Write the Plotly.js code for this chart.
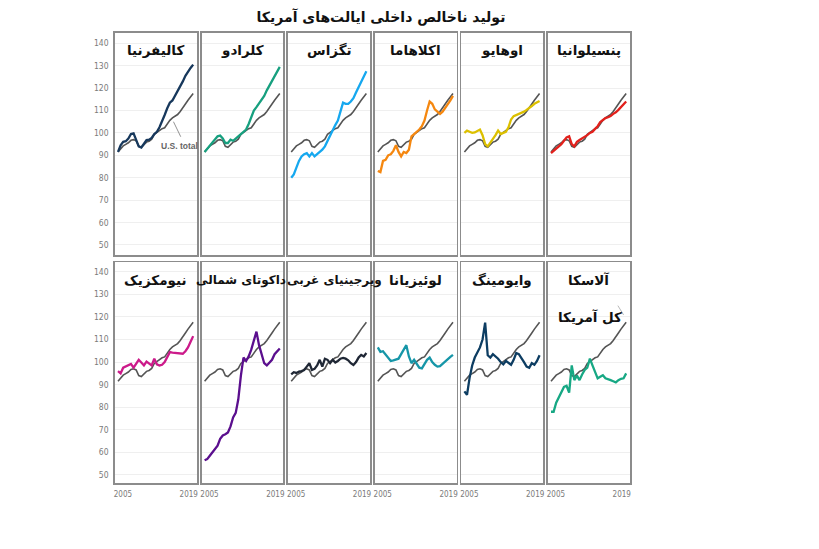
<!DOCTYPE html>
<html><head><meta charset="utf-8">
<script src="https://cdn.plot.ly/plotly-3.0.1.min.js"></script>
<style>html,body{margin:0;padding:0;background:#fff}</style>
</head><body><div id="chart" style="width:819px;height:549px"></div>
<script>
const years = [2005,2005.5,2006,2006.5,2007,2007.5,2008,2008.5,2009,2009.5,2010,2010.5,2011,2011.5,2012,2012.5,2013,2013.5,2014,2014.5,2015,2015.5,2016,2016.5,2017,2017.5,2018,2018.5,2019,2019.5];
const usTotal = [91.5,92.8,94.2,94.9,95.6,96.7,97.0,96.5,94.0,93.6,94.8,95.9,96.3,97.2,99.4,100.3,100.9,101.9,102.3,104.2,105.6,106.7,107.4,108.2,109.6,111.0,112.9,114.6,116.0,117.6];
const california = [91.5,94.5,96.0,96.3,97.5,99.5,99.8,97.0,94.0,93.5,95.0,96.8,97.0,97.8,99.5,100.5,102.5,105.0,108.0,111.0,113.5,114.5,116.5,118.5,120.5,123.0,125.5,127.5,129.0,130.5];
const colorado = [91.5,93.0,94.5,95.5,97.0,98.5,98.8,97.5,95.5,95.5,97.0,96.5,97.5,98.5,99.5,100.3,101.5,104.0,107.0,110.0,111.5,113.0,114.5,116.5,119.0,121.0,123.0,125.5,127.5,129.5];
const texas = [80.0,81.5,84.5,87.5,89.5,90.5,91.0,89.5,91.0,89.5,90.5,91.5,92.5,94.0,96.5,99.0,101.5,103.5,105.5,109.0,113.5,113.0,113.0,114.0,115.5,118.0,120.5,123.0,125.5,127.5];
const oklahoma = [83.0,82.5,87.5,88.0,90.0,90.5,92.0,94.5,91.5,89.5,91.5,91.0,92.5,98.5,99.5,100.5,101.5,103.0,105.5,110.0,114.0,113.0,110.5,109.5,108.5,109.5,111.0,112.5,114.5,116.5];
const ohio = [100.0,101.0,100.5,100.0,100.2,100.8,101.5,99.0,95.0,94.0,95.5,97.0,99.0,101.0,99.5,100.0,100.5,102.5,106.0,107.5,108.0,108.2,108.8,109.5,110.3,111.0,112.0,113.0,113.8,114.3];
const pennsylvania = [91.0,92.0,93.0,94.0,95.0,96.5,98.0,98.5,95.0,94.0,96.0,96.8,97.5,98.3,99.0,100.0,100.5,101.8,103.0,104.8,105.8,106.6,107.0,107.5,108.5,109.2,110.3,111.5,113.0,114.0];
const newMexico = [96.0,95.0,97.5,98.0,98.5,99.2,97.5,99.5,101.0,99.8,98.5,100.2,99.5,98.5,101.5,99.0,98.5,98.8,100.0,102.5,104.4,104.2,104.0,104.1,103.8,103.7,104.8,106.5,109.0,111.5];
const northDakota = [56.5,57.0,58.5,60.0,61.0,63.0,66.0,67.5,68.0,68.8,71.5,75.5,77.5,83.5,94.0,102.0,100.5,102.5,105.5,110.0,113.5,107.5,103.0,99.5,98.5,100.0,101.0,103.5,105.0,106.0];
const westVirginia = [94.5,95.5,95.2,95.8,96.0,96.5,98.0,99.5,96.5,97.0,98.5,101.0,98.0,101.5,101.0,99.5,101.0,99.8,100.5,101.5,101.8,101.5,100.8,99.5,98.7,100.0,102.0,103.2,102.5,104.0];
const louisiana = [106.5,104.5,104.8,103.5,102.0,100.5,100.8,101.0,101.5,103.5,105.5,107.5,102.5,99.5,101.0,99.0,97.5,97.2,99.0,101.0,102.0,100.0,98.8,98.0,98.2,99.3,100.0,101.5,102.3,103.2];
const wyoming = [87.0,85.5,93.0,98.5,102.0,104.0,106.5,110.0,117.5,103.0,102.0,103.5,102.5,101.5,100.0,99.0,100.5,99.5,98.8,101.0,104.0,103.5,102.0,100.0,98.0,97.5,99.5,98.8,100.5,103.0];
const alaska = [78.0,78.0,82.0,84.5,86.5,89.0,89.5,86.5,98.5,92.0,94.0,92.0,94.5,96.5,97.5,101.5,98.5,96.0,92.8,93.5,94.2,92.8,92.5,92.0,91.5,91.0,92.0,92.6,92.8,95.0];

const stateNames = ['کالیفرنیا','کلرادو','تگزاس','اکلاهاما','اوهایو','پنسیلوانیا','نیومکزیک','داکوتای شمالی','ویرجینیای غربی','لوئیزیانا','وایومینگ','آلاسکا'];
const stateSeries = [california,colorado,texas,oklahoma,ohio,pennsylvania,newMexico,northDakota,westVirginia,louisiana,wyoming,alaska];
const stateColors = ['#17385c','#17a07f','#16a8ef','#f5870f','#dcc000','#e2211c','#cc1a8a','#5b0f8e','#1f2735','#1696a8','#0d3d62','#17a884'];
const yTicks = [50,60,70,80,90,100,110,120,130,140];
const xTickLabels = ['2005','2019'];
const chartTitle = 'تولید ناخالص داخلی ایالت‌های آمریکا';
const usLabel = 'U.S. total';
const usLabelFa = 'کل آمریکا';

const W = 819, H = 549;
const tickFont = {family:'Liberation Sans Narrow, DejaVu Sans Condensed, sans-serif', size:8.5, color:'#7a7a7a'};
const xTickFont = {family:'Liberation Sans Narrow, DejaVu Sans Condensed, sans-serif', size:8, color:'#7a7a7a'};
const traces = [];
const layout = {
  width: W, height: H,
  margin: {l:0, r:0, t:0, b:0},
  paper_bgcolor:'#fff', plot_bgcolor:'#fff',
  showlegend:false,
  title: {text:'<b>'+chartTitle+'</b>', x:381/W, xanchor:'center', y:1-17/H, yanchor:'middle',
          font:{family:'DejaVu Sans, sans-serif', size:14, color:'#111'}},
  annotations: [], shapes: []
};
const rowY = [[33,255],[262.3,483.3]];
const rowRange = [[45.5,144.6],[46.3,144.2]];
for (let i=0;i<12;i++){
  const row = i<6?0:1, col = i%6;
  const left = 115 + col*86.6, right = left + 81.7;
  const sfx = i===0 ? '' : String(i+1);
  layout['xaxis'+sfx] = {
    domain:[left/W, right/W], anchor:'y'+sfx, range:[2004.42,2020.18],
    showgrid:false, zeroline:false, ticks:'', tickvals:[2005.95,2018.65], ticktext:xTickLabels,
    showticklabels: row===1, tickfont: xTickFont, ticklabelstandoff: 2,
    showline:true, mirror:true, linecolor:'#8c8c8c', linewidth:1.8, fixedrange:true
  };
  layout['yaxis'+sfx] = {
    domain:[1-rowY[row][1]/H, 1-rowY[row][0]/H], anchor:'x'+sfx, range:rowRange[row],
    showgrid:true, gridcolor:'#efefef', gridwidth:1, zeroline:false, ticks:'', tickvals:yTicks,
    showticklabels: col===0, tickfont: tickFont, ticklabelstandoff: 3,
    showline:true, mirror:true, linecolor:'#8c8c8c', linewidth:1.8, fixedrange:true
  };
  traces.push({x:years, y:usTotal, xaxis:'x'+sfx, yaxis:'y'+sfx, type:'scatter', mode:'lines',
    line:{color:'#555555', width:1.6}, hoverinfo:'skip'});
  traces.push({x:years, y:stateSeries[i], xaxis:'x'+sfx, yaxis:'y'+sfx, type:'scatter', mode:'lines',
    line:{color:stateColors[i], width:2.3}, name:stateNames[i]});
  let cx = (left+right)/2, fs = 13.5;
  if (i===7) { cx = 241; fs = 12; }
  if (i===8) { cx = 334; fs = 12; }
  layout.annotations.push({xref:'paper', yref:'paper', x:cx/W, y:1-(row===0?50:280)/H,
    xanchor:'center', yanchor:'middle', showarrow:false, text:'<b>'+stateNames[i]+'</b>',
    font:{family:'DejaVu Sans, sans-serif', size:fs, color:'#111'}});
}
// U.S. total label (panel 1)
layout.annotations.push({xref:'x', yref:'y', x:2016.8, y:94.3, xanchor:'center', yanchor:'middle',
  showarrow:false, text:'<b>'+usLabel+'</b>', font:{family:'Liberation Sans Narrow, sans-serif', size:8.5, color:'#666'}});
layout.shapes.push({type:'line', xref:'x', yref:'y', x0:2015.7, y0:105.0, x1:2017.1, y1:98.3,
  line:{color:'#777', width:0.8}});
// Persian label in Alaska panel
layout.annotations.push({xref:'x12', yref:'y12', x:2012.6, y:120.1, xanchor:'center', yanchor:'middle',
  showarrow:false, text:'<b>'+usLabelFa+'</b>', font:{family:'DejaVu Sans, sans-serif', size:13.5, color:'#111'}});
layout.shapes.push({type:'line', xref:'x12', yref:'y12', x0:2017.9, y0:125.0, x1:2019.0, y1:120.9,
  line:{color:'#999', width:0.7}});
Plotly.newPlot('chart', traces, layout, {displayModeBar:false, staticPlot:true});
</script></body></html>
